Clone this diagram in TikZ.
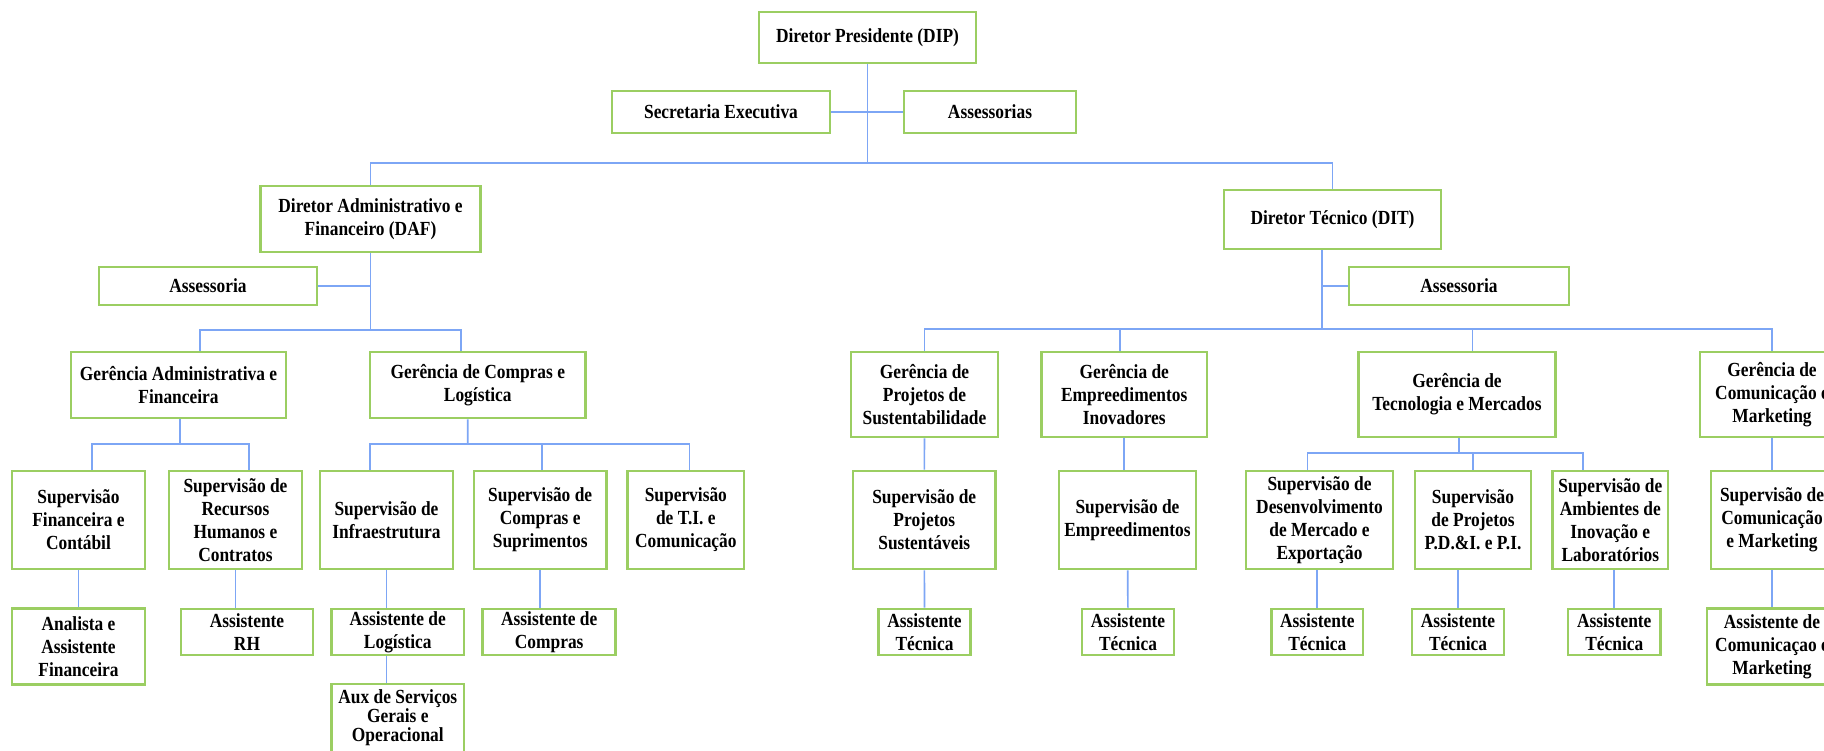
\documentclass[tikz,border=0pt]{standalone}
\usepackage{fontspec}
\setmainfont{Liberation Serif}[FakeStretch=0.87]
\usepackage{xcolor}
\definecolor{boxgreen}{RGB}{155,206,98}
\definecolor{linkblue}{RGB}{125,166,245}

\begin{document}
\begin{tikzpicture}[x=1pt, y=-1pt,
  unit/.style={draw=boxgreen, line width=2.7pt, fill=white, align=center,
    inner sep=0pt, font=\bfseries\fontsize{20}{23}\selectfont},
  sz/.style 2 args={minimum width=#1, minimum height=#2},
  link/.style={draw=linkblue, line width=1.7pt}]

  \useasboundingbox (0,0) rectangle (1824,750);
  \fill[white] (0,0) rectangle (1824,750);
  \clip (0,0) rectangle (1824,750);

  \def\rowg{385}
  \def\rowh{394.5}
  \def\rows{520}
  \def\rowa{632}
  \def\rowb{646.5}

  % direction
  \node[unit, sz={217}{51}] (dip) at (867.5,37.5) {Diretor Presidente (DIP)};
  \node[unit, sz={218}{42}] (sec) at (721,112) {Secretaria Executiva};
  \node[unit, sz={172}{42}] (asp) at (990,112) {Assessorias};

  \node[unit, sz={220}{66}] (daf) at (370.5,219) {Diretor Administrativo e\\Financeiro (DAF)};
  \node[unit, sz={217}{59}] (dit) at (1332.5,219.5) {Diretor Técnico (DIT)};
  \node[unit, sz={218}{38}] (asdaf) at (208,286) {Assessoria};
  \node[unit, sz={220}{38}] (asdit) at (1459,286) {Assessoria};

  % gerencias
  \node[unit, sz={215}{66}] (gaf) at (178.5,\rowg) {Gerência Administrativa e\\Financeira};
  \node[unit, sz={215.5}{66}] (gcl) at (477.75,\rowg) {Gerência de Compras e\\Logística};
  \node[unit, sz={147}{85}] (gps) at (924.5,\rowh) {Gerência de\\Projetos de\\Sustentabilidade};
  \node[unit, sz={165.5}{85}] (gei) at (1124.25,\rowh) {Gerência de\\Empreedimentos\\Inovadores};
  \node[unit, sz={197.5}{85}] (gtm) at (1457,\rowh) {Gerência de\\Tecnologia e Mercados};
  \node[unit, sz={144}{85}] (gcm) at (1772,\rowh) {Gerência de\\Comunicação e\\Marketing};

  % supervisoes
  \node[unit, sz={133}{98}] (sfc) at (78.5,\rows) {Supervisão\\Financeira e\\Contábil};
  \node[unit, sz={133}{98}] (srh) at (235.5,\rows) {Supervisão de\\Recursos\\Humanos e\\Contratos};
  \node[unit, sz={133}{98}] (sin) at (386.5,\rows) {Supervisão de\\Infraestrutura};
  \node[unit, sz={132.4}{98}] (scs) at (540.2,\rows) {Supervisão de\\Compras e\\Suprimentos};
  \node[unit, sz={116.3}{98}] (sti) at (685.85,\rows) {Supervisão\\de T.I. e\\Comunicação};
  \node[unit, sz={142.5}{98}] (sps) at (924.25,\rows) {Supervisão de\\Projetos\\Sustentáveis};
  \node[unit, sz={137}{98}] (sem) at (1127.5,\rows) {Supervisão de\\Empreedimentos};
  \node[unit, sz={147}{98}] (sdm) at (1319.5,\rows) {Supervisão de\\Desenvolvimento\\de Mercado e\\Exportação};
  \node[unit, sz={116}{98}] (spd) at (1473,\rows) {Supervisão\\de Projetos\\P.D.\&I. e P.I.};
  \node[unit, sz={115.4}{98}] (sai) at (1610.3,\rows) {Supervisão de\\Ambientes de\\Inovação e\\Laboratórios};
  \node[unit, sz={122}{98}] (scm) at (1772,\rows) {Supervisão de\\Comunicação\\e Marketing};

  % assistentes
  \node[unit, sz={133}{76}] (aaf) at (78.5,\rowb) {Analista e\\Assistente\\Financeira};
  \node[unit, sz={132}{46}] (arh) at (247,\rowa) {Assistente\\RH};
  \node[unit, sz={132.4}{46}] (alg) at (397.8,\rowa) {Assistente de\\Logística};
  \node[unit, sz={132.8}{46}] (acp) at (549.2,\rowa) {Assistente de\\Compras};
  \node[unit, sz={91.7}{46}] (at1) at (924.5,\rowa) {Assistente\\Técnica};
  \node[unit, sz={92}{46}] (at2) at (1128,\rowa) {Assistente\\Técnica};
  \node[unit, sz={91.4}{46}] (at3) at (1317.3,\rowa) {Assistente\\Técnica};
  \node[unit, sz={92}{46}] (at4) at (1458,\rowa) {Assistente\\Técnica};
  \node[unit, sz={92.5}{46}] (at5) at (1614.25,\rowa) {Assistente\\Técnica};
  \node[unit, sz={130}{76}] (acm) at (1772,\rowb) {Assistente de\\Comunicaçao e\\Marketing};
  \node[unit, sz={132.4}{68}, font=\bfseries\fontsize{20}{19}\selectfont] (asg) at (397.8,718)
    {Aux de Serviços\\Gerais e\\Operacional};

  % links
  \coordinate (top) at (867.5,163);
  \draw[link] (dip) -- (top);
  \draw[link] (sec) -- (asp);
  \draw[link] (daf) |- (top) -| (dit);

  \coordinate (dafbus) at (370.5,330);
  \draw[link] (daf) -- (dafbus);
  \draw[link] (asdaf) -- (asdaf -| dafbus);
  \draw[link] ([xshift=21.5]gaf.north) |- (dafbus) -| ([xshift=-17]gcl.north);

  \coordinate (ditbus) at (1322,329.3);
  \draw[link] ([xshift=-10.5]dit.south) -- (ditbus);
  \draw[link] (asdit) -- (asdit -| ditbus);
  \draw[link] (gps) |- (ditbus) -| (gcm);
  \draw[link] ([xshift=-4.5]gei.north) |- (ditbus);
  \draw[link] ([xshift=15.5]gtm.north) |- (ditbus);

  \coordinate (gafbus) at (180.3,444.3);
  \draw[link] ([xshift=1.8]gaf.south) -- (gafbus);
  \draw[link] ([xshift=13.5]sfc.north) |- (gafbus) -| ([xshift=13.2]srh.north);

  \coordinate (gclbus) at (467.8,444.3);
  \draw[link] ([xshift=-10]gcl.south) -- (gclbus);
  \draw[link] ([xshift=-16.7]sin.north) |- (gclbus) -| ([xshift=3.5]sti.north);
  \draw[link] ([xshift=1.8]scs.north) |- (gclbus);

  \coordinate (gtmbus) at (1459,453.3);
  \draw[link] ([xshift=2]gtm.south) -- (gtmbus);
  \draw[link] ([xshift=-12]sdm.north) |- (gtmbus) -| ([xshift=-27.3]sai.north);
  \draw[link] (spd) |- (gtmbus);

  \draw[link] (gps) -- (sps);
  \draw[link] (gei) -- (gei |- sem.north);
  \draw[link] (gcm) -- (scm);

  \draw[link] (sfc) -- (aaf);
  \draw[link] (srh) -- (srh |- arh.north);
  \draw[link] (sin) -- (sin |- alg.north);
  \draw[link] (alg.south -| sin) -- (asg.north -| sin);
  \draw[link] (scs) -- (scs |- acp.north);
  \draw[link] (sps) -- (at1);
  \draw[link] (sem) -- (at2);
  \draw[link] (at3) -- (at3 |- sdm.south);
  \draw[link] (at4) -- (at4 |- spd.south);
  \draw[link] (at5) -- (at5 |- sai.south);
  \draw[link] (scm) -- (acm);
\end{tikzpicture}
\end{document}
